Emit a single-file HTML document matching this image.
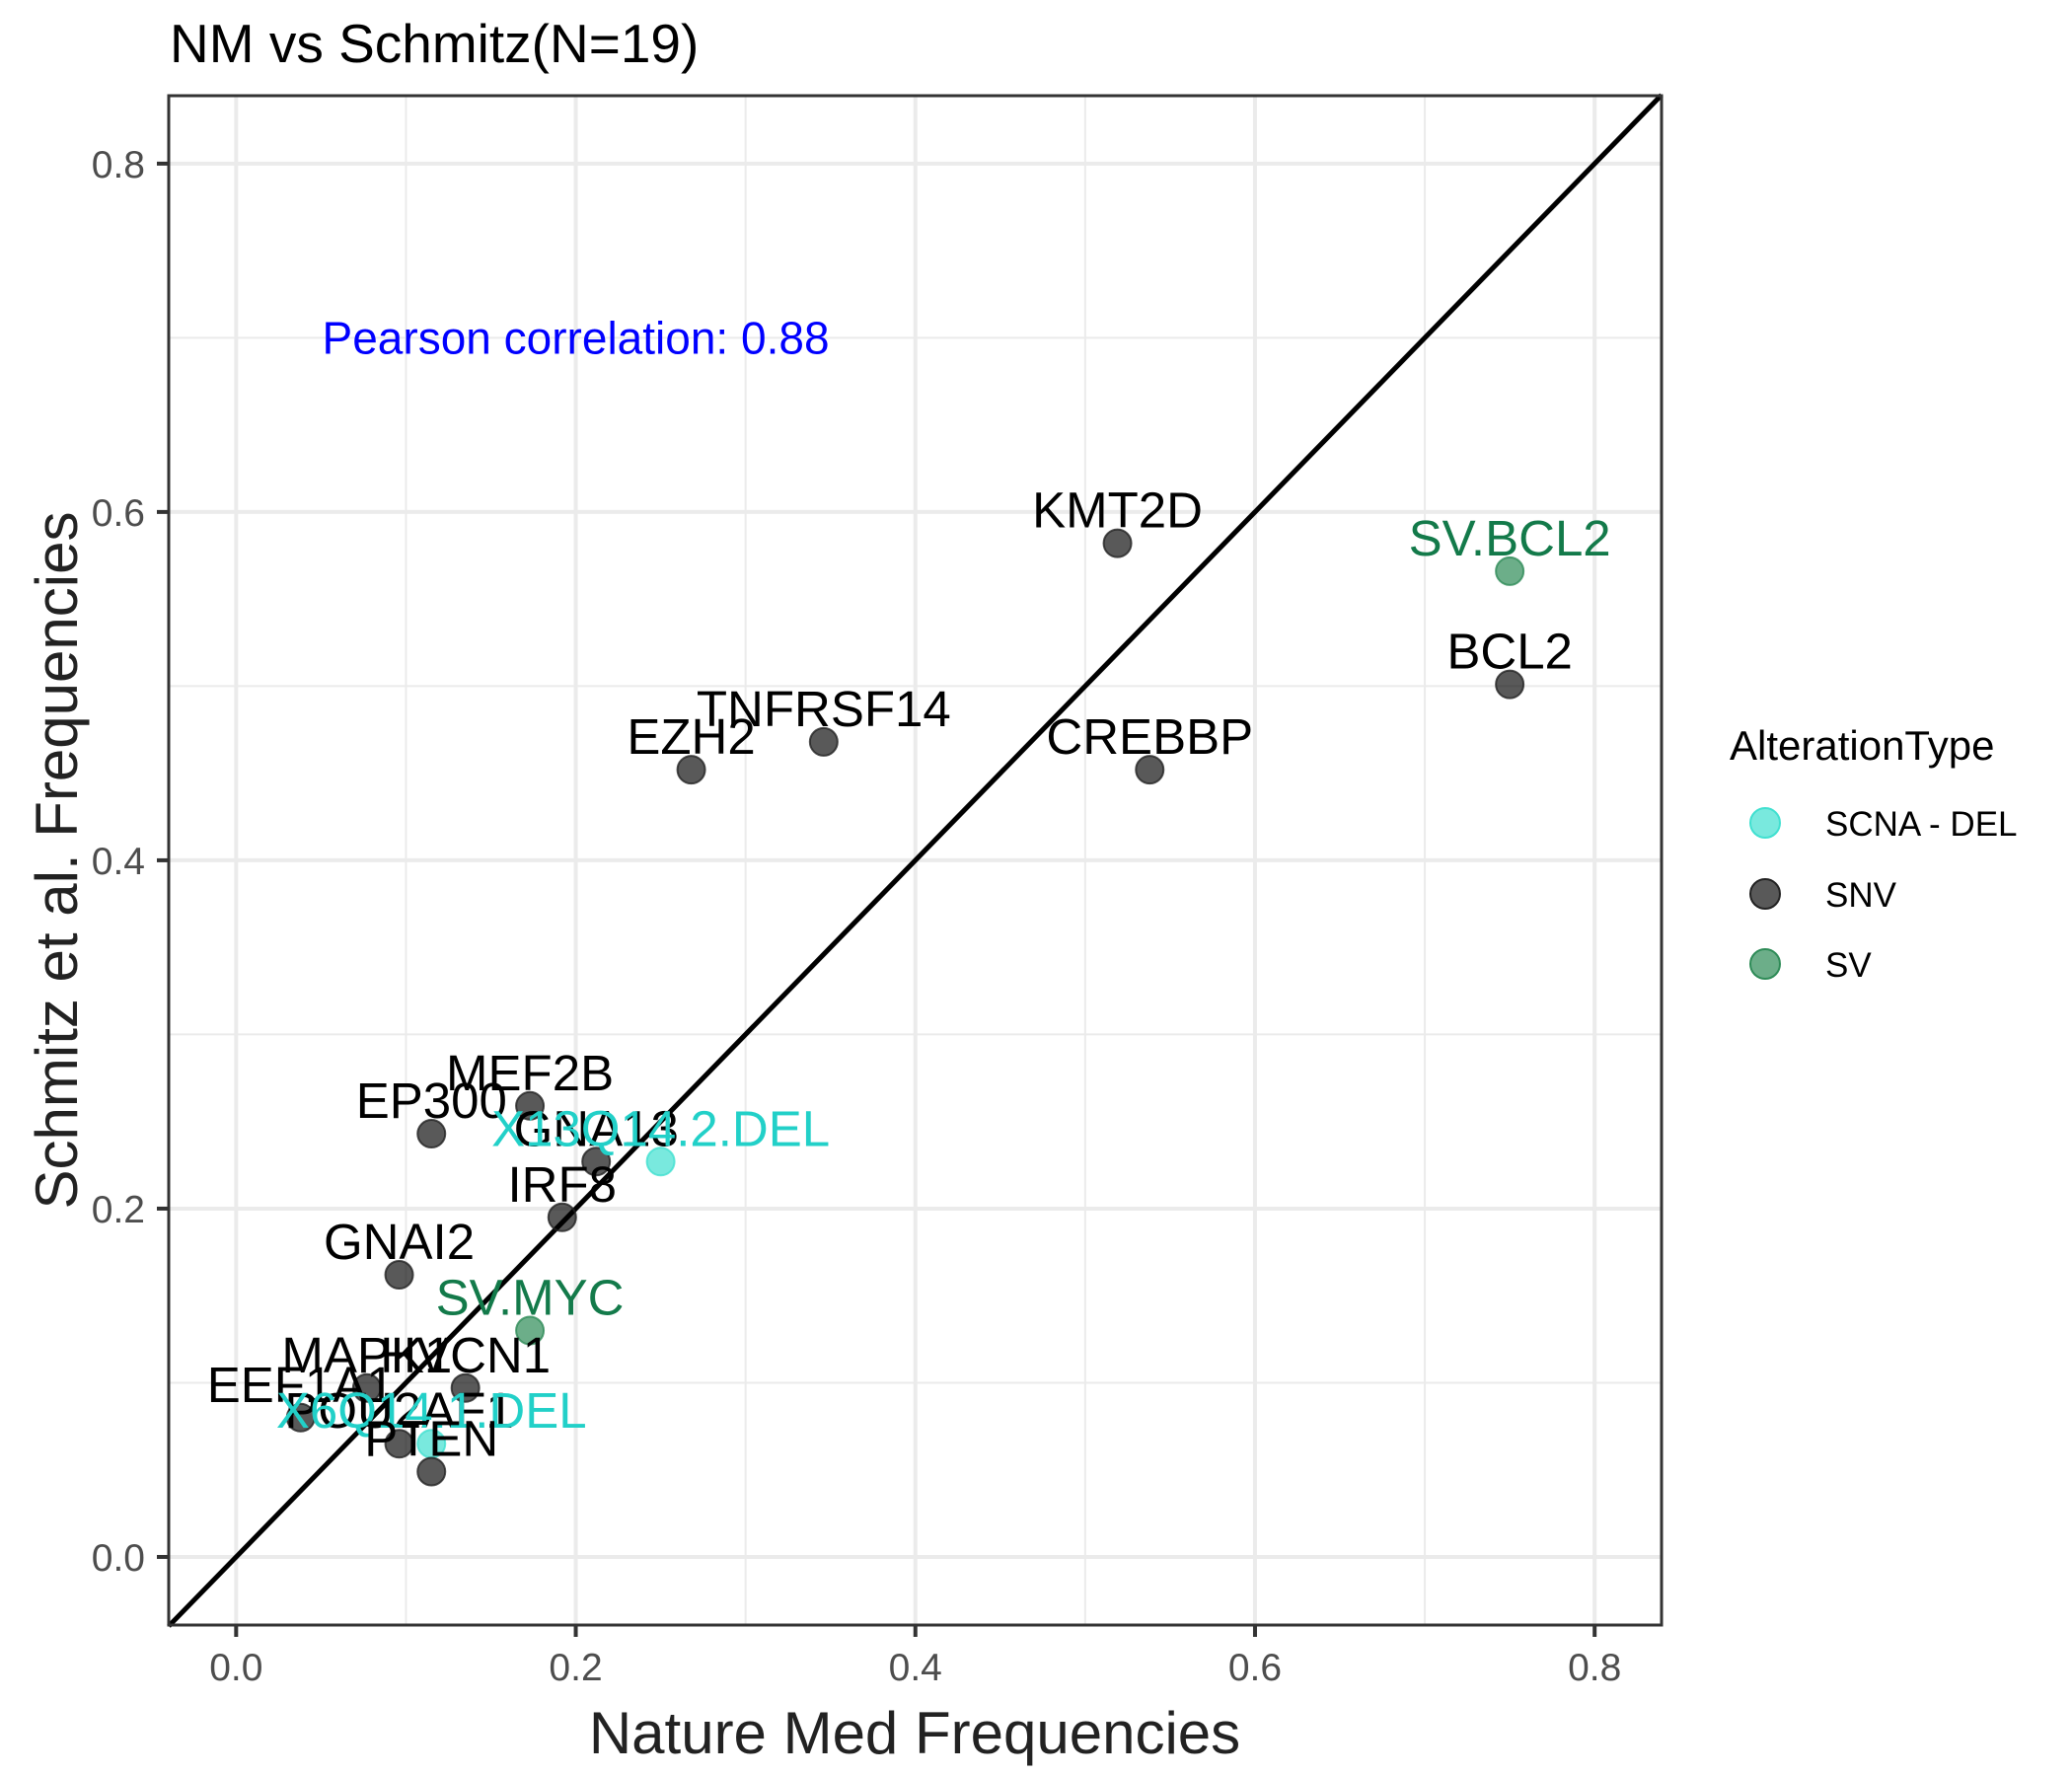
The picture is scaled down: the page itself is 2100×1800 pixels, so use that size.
<!DOCTYPE html>
<html><head><meta charset="utf-8"><style>
html,body{margin:0;padding:0;background:#fff;}
svg{display:block;font-family:"Liberation Sans",Arial,sans-serif;}
</style></head><body>
<svg id="chart" width="2100" height="1800" viewBox="0 0 2100 1800">
<text x="172" y="63" font-size="55" fill="#000">NM vs Schmitz(N=19)</text>
<g id="grid"></g>
<g id="diag"></g>
<g id="pts"></g>
<g id="labels"></g>
<rect x="171" y="97" width="1513" height="1550" fill="none" stroke="#333" stroke-width="3"/>
<g id="axes"></g>
<text x="927" y="1777" font-size="60" text-anchor="middle" fill="#222">Nature Med Frequencies</text>
<text transform="translate(78,872) rotate(-90)" font-size="60" text-anchor="middle" fill="#222">Schmitz et al. Frequencies</text>
<g>
<text x="1753" y="770" font-size="42" fill="#000">AlterationType</text>
<g><circle cx="1789" cy="834" r="15" fill="#40E0D0" fill-opacity="0.7" stroke="#40E0D0" stroke-width="2"/><text x="1850" y="847" font-size="35">SCNA - DEL</text></g>
<g><circle cx="1789" cy="906" r="15" fill="#000" fill-opacity="0.65" stroke="#222" stroke-width="2"/><text x="1850" y="919" font-size="35">SNV</text></g>
<g><circle cx="1789" cy="977" r="15" fill="#2E8B57" fill-opacity="0.7" stroke="#2E8B57" stroke-width="2"/><text x="1850" y="990" font-size="35">SV</text></g>
</g>
</svg>
<script>
const genes = ["KMT2D","SV.BCL2","BCL2","CREBBP","TNFRSF14","EZH2","MEF2B","EP300","GNA13","X13Q14.2.DEL","IRF8","GNAI2","SV.MYC","MAPK1","HVCN1","EEF1A1","POU2AF1","X6Q14.1.DEL","PTEN"];
const types = ["SNV","SV","SNV","SNV","SNV","SNV","SNV","SNV","SNV","SCNA","SNV","SNV","SV","SNV","SNV","SNV","SNV","SCNA","SNV"];
const nmFreq = [0.519,0.750,0.750,0.538,0.346,0.268,0.173,0.115,0.212,0.250,0.192,0.096,0.173,0.077,0.135,0.038,0.096,0.115,0.115];
const schmitzFreq = [0.582,0.566,0.501,0.452,0.468,0.452,0.259,0.243,0.227,0.227,0.195,0.162,0.130,0.097,0.097,0.080,0.065,0.065,0.049];
const ticks = [0,0.2,0.4,0.6,0.8];
const tickLabels = ["0.0","0.2","0.4","0.6","0.8"];
const minorTicks = [0.1,0.3,0.5,0.7];

const NS="http://www.w3.org/2000/svg";
const X0=171,X1=1684,Y0=97,Y1=1647;
const xmin=-0.0397,xmax=0.8394,ymin=-0.0391,ymax=0.8390;
const sx=v=>X0+(v-xmin)/(xmax-xmin)*(X1-X0);
const sy=v=>Y1-(v-ymin)/(ymax-ymin)*(Y1-Y0);
function mk(tag,attrs,parent){const e=document.createElementNS(NS,tag);for(const k in attrs)e.setAttribute(k,attrs[k]);parent.appendChild(e);return e;}
const grid=document.getElementById('grid');
minorTicks.forEach(t=>{
  const a=mk('line',{x1:sx(t),x2:sx(t),y1:Y0,y2:Y1,stroke:'#EBEBEB','stroke-width':2},grid);
  
  
  const b=mk('line',{x1:X0,x2:X1,y1:sy(t),y2:sy(t),stroke:'#EBEBEB','stroke-width':2},grid);
  
  
});
const axes=document.getElementById('axes');
ticks.forEach((t,i)=>{
  const a=mk('line',{x1:sx(t),x2:sx(t),y1:Y0,y2:Y1,stroke:'#EBEBEB','stroke-width':4},grid);
  
  
  const b=mk('line',{x1:X0,x2:X1,y1:sy(t),y2:sy(t),stroke:'#EBEBEB','stroke-width':4},grid);
  
  
  const tx=mk('line',{x1:sx(t),x2:sx(t),y1:Y1,y2:Y1+12,stroke:'#333','stroke-width':4},axes);
  
  
  const ty=mk('line',{x1:X0-12,x2:X0,y1:sy(t),y2:sy(t),stroke:'#333','stroke-width':4},axes);
  
  
  const lx=mk('text',{x:sx(t),y:Y1+56,'font-size':39,'text-anchor':'middle',fill:'#4D4D4D'},axes);
  lx.textContent=tickLabels[i];
  
  
  const ly=mk('text',{x:X0-24,y:sy(t)+14,'font-size':39,'text-anchor':'end',fill:'#4D4D4D'},axes);
  ly.textContent=tickLabels[i];
  
  
});
const d=mk('line',{x1:sx(xmin),y1:sy(xmin),x2:sx(xmax),y2:sy(xmax),stroke:'#000','stroke-width':5},document.getElementById('diag'));


const pe=mk('text',{x:sx(0.2),y:sy(0.7)+16,'font-size':46,'text-anchor':'middle',fill:'#0000FF'},document.getElementById('labels'));
pe.textContent='Pearson correlation: 0.88';


const fillC={SNV:'#000000',SV:'#2E8B57',SCNA:'#40E0D0'};
const strokeC={SNV:'#222222',SV:'#2E8B57',SCNA:'#40E0D0'};
const labC={SNV:'#000000',SV:'#137A4A',SCNA:'#22D0C8'};
const pts=document.getElementById('pts'),labs=document.getElementById('labels');
genes.forEach((g,i)=>{
  const t=types[i];
  const c=mk('circle',{cx:sx(nmFreq[i]),cy:sy(schmitzFreq[i]),r:14,fill:fillC[t],'fill-opacity':t==='SNV'?0.65:0.7,stroke:strokeC[t],'stroke-opacity':0.8,'stroke-width':2},pts);
  
  
  const l=mk('text',{x:sx(nmFreq[i]),y:sy(schmitzFreq[i])-16,'font-size':51,'text-anchor':'middle',fill:labC[t]},labs);
  l.textContent=g;
  
  
});
</script>
</body></html>
